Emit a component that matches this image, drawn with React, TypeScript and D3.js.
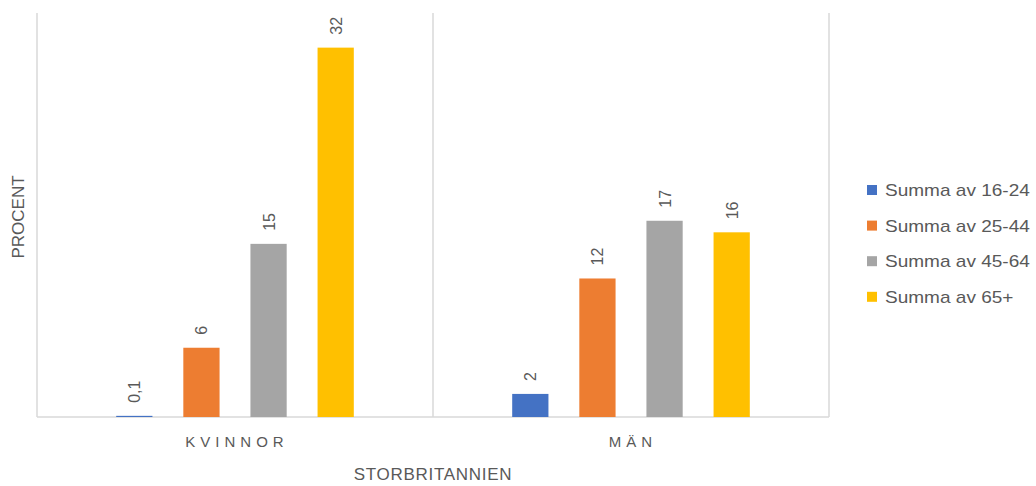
import React, { useEffect, useRef } from 'react';
import * as d3 from 'd3';

const categories = ['KVINNOR', 'MÄN'];
const seriesNames = ['Summa av 16-24', 'Summa av 25-44', 'Summa av 45-64', 'Summa av 65+'];
const seriesColors = ['#4472C4', '#ED7D31', '#A5A5A5', '#FFC000'];
// values per category, in series order
const kvinnorValues = [0.1, 6, 15, 32];
const manValues = [2, 12, 17, 16];
const valueLabels = [['0,1', '6', '15', '32'], ['2', '12', '17', '16']];

const App = () => {
  const svgRef = useRef<SVGSVGElement | null>(null);

  useEffect(() => {
    const svg = d3.select(svgRef.current).attr('width', 1036).attr('height', 486);
    svg.selectAll('*').remove();
    const font = "'Liberation Sans', Arial, sans-serif";
    const textColor = '#595959';
    const gridColor = '#D9D9D9';

    const margin = { top: 13, left: 37, right: 207, bottom: 69 };
    const plotRight = 1036 - margin.right;
    const plotBottom = 486 - margin.bottom;

    const x0 = d3.scaleBand<string>().domain(categories).range([margin.left, plotRight]);
    const x1 = d3
      .scaleBand<string>()
      .domain(seriesNames)
      .range([0, x0.bandwidth()])
      .paddingInner(0.46)
      .paddingOuter(1.18);
    const y = d3.scaleLinear().domain([0, 35]).range([plotBottom, margin.top]);

    const data = [kvinnorValues, manValues];

    // separators between categories
    const edges = [...categories.map((c) => x0(c) as number), plotRight];
    svg
      .selectAll('.sep')
      .data(edges)
      .join('line')
      .attr('x1', (d) => d)
      .attr('x2', (d) => d)
      .attr('y1', margin.top)
      .attr('y2', plotBottom)
      .attr('stroke', gridColor)
      .attr('stroke-width', 1.5);

    svg
      .append('line')
      .attr('x1', margin.left)
      .attr('x2', plotRight)
      .attr('y1', plotBottom)
      .attr('y2', plotBottom)
      .attr('stroke', gridColor)
      .attr('stroke-width', 1.5);

    categories.forEach((cat, ci) => {
      const g = svg.append('g').attr('transform', `translate(${x0(cat)},0)`);
      g.selectAll('rect')
        .data(data[ci])
        .join('rect')
        .attr('x', (_, i) => x1(seriesNames[i]) as number)
        .attr('y', (d) => y(d))
        .attr('width', x1.bandwidth())
        .attr('height', (d) => plotBottom - y(d))
        .attr('fill', (_, i) => seriesColors[i]);

      g.selectAll('text')
        .data(data[ci])
        .join('text')
        .attr('transform', (d, i) => {
          const cx = (x1(seriesNames[i]) as number) + x1.bandwidth() / 2;
          return `translate(${cx + 6},${y(d) - 13}) rotate(-90)`;
        })
        .attr('font-family', font)
        .attr('font-size', 16)
        .attr('fill', textColor)
        .text((_, i) => valueLabels[ci][i]);

      svg
        .append('text')
        .attr('x', (x0(cat) as number) + x0.bandwidth() / 2 + 2)
        .attr('y', 447)
        .attr('text-anchor', 'middle')
        .attr('font-family', font)
        .attr('font-size', 15)
        .attr('letter-spacing', 5)
        .attr('fill', textColor)
        .text(cat);
    });

    svg
      .append('text')
      .attr('x', (margin.left + plotRight) / 2)
      .attr('y', 480)
      .attr('text-anchor', 'middle')
      .attr('font-family', font)
      .attr('font-size', 17)
      .attr('letter-spacing', 0.7)
      .attr('fill', textColor)
      .text('STORBRITANNIEN');

    svg
      .append('text')
      .attr('transform', `translate(24,${(margin.top + plotBottom) / 2 + 2}) rotate(-90)`)
      .attr('text-anchor', 'middle')
      .attr('font-family', font)
      .attr('font-size', 17)
      .attr('fill', textColor)
      .text('PROCENT');

    const legend = svg
      .selectAll('.leg')
      .data(seriesNames)
      .join('g')
      .attr('transform', (_, i) => `translate(867,${190 + i * 35.6})`);
    legend
      .append('rect')
      .attr('x', 0)
      .attr('y', -5)
      .attr('width', 10)
      .attr('height', 10)
      .attr('fill', (_, i) => seriesColors[i]);
    legend
      .append('text')
      .attr('transform', 'translate(18,6) scale(1.12,1)')
      .attr('font-family', font)
      .attr('font-size', 17)
      .attr('fill', textColor)
      .text((d) => d);
  }, []);

  return (
    <div style={{ position: 'absolute', left: 0, top: 0 }}>
      <svg ref={svgRef} style={{ display: 'block' }}></svg>
    </div>
  );
};

export default App;
